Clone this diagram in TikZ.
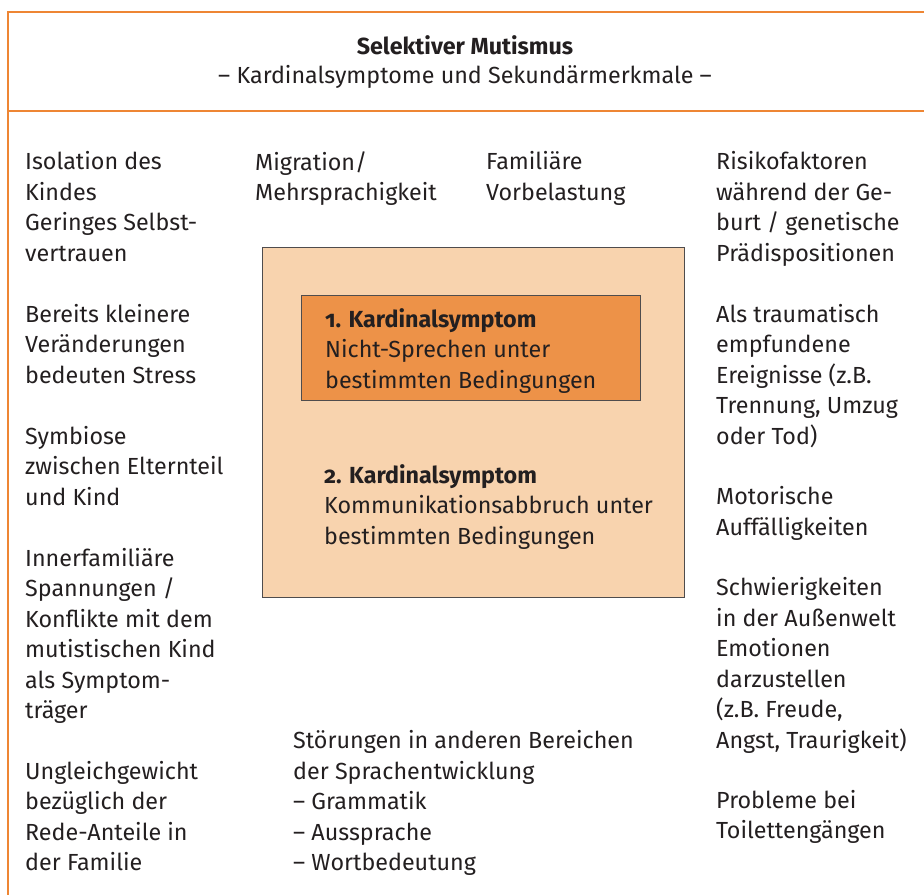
\documentclass[tikz,border=0pt]{standalone}
\usepackage{fontspec}
\setmainfont{Fira Sans}
\usepackage{xcolor}
\definecolor{frameorange}{RGB}{238,134,52}
\definecolor{outerfill}{RGB}{248,211,174}
\definecolor{innerfill}{RGB}{237,146,72}
\definecolor{textgray}{RGB}{35,31,32}
\tikzset{
  txt/.style={anchor=north west,yshift=21.35pt,inner sep=0pt,align=left,text=textgray,
    font=\fontsize{23.3}{30.5}\selectfont,execute at begin node=\strut},
  head/.style={anchor=north,yshift=20.3pt,inner sep=0pt,align=center,text=textgray,
    font=\fontsize{23.3}{29}\selectfont,execute at begin node=\strut}
}
\begin{document}
\begin{tikzpicture}[x=1pt,y=1pt,yscale=-1,xscale=1]
\useasboundingbox (0,0) rectangle (924,895);

\draw [color=frameorange, line width=1.6] (924,12) -- (8,12) -- (8,895) ;
\draw [color=frameorange, line width=1.6] (8,111) -- (924,111) ;
\draw [draw=textgray!80, fill=outerfill, line width=0.9] (262,247) -- (684,247) -- (684,597) -- (262,597) -- cycle ;
\draw [draw=textgray!80, fill=innerfill, line width=0.9] (301,295) -- (640,295) -- (640,400) -- (301,400) -- cycle ;

% header
\node (title) at (465,56) [head] {\textbf{Selektiver Mutismus}\\– Kardinalsymptome und Sekundärmerkmale –};

% left column
\node (isolation) at (25,172.5) [txt] {Isolation des\\Kindes\\Geringes Selbst-\\vertrauen};
\node (stress) at (25,325) [txt] {Bereits kleinere\\Veränderungen\\bedeuten Stress};
\node (symbiose) at (25,447) [txt] {Symbiose\\zwischen Elternteil\\und Kind};
\node (spannung) at (25,569) [txt] {Innerfamiliäre\\Spannungen /\\Konflikte mit dem\\mutistischen Kind\\als Symptom-\\träger};
\node (redeanteil) at (25,782) [txt] {Ungleichgewicht\\bezüglich der\\Rede-Anteile in\\der Familie};

% top middle
\node (migration) at (255,172.5) [txt] {Migration/\\Mehrsprachigkeit};
\node (familie) at (486,172.5) [txt] {Familiäre\\Vorbelastung};

% right column
\node (risiko) at (716,172.5) [txt] {Risikofaktoren\\während der Ge-\\burt / genetische\\Prädispositionen};
\node (trauma) at (716,325) [txt] {Als traumatisch\\empfundene\\Ereignisse (z.B.\\Trennung, Umzug\\oder Tod)};
\node (motorik) at (716,507.5) [txt] {Motorische\\Auffälligkeiten};
\node (emotion) at (716,598.5) [txt] {Schwierigkeiten\\in der Außenwelt\\Emotionen\\darzustellen\\(z.B. Freude,\\Angst, Traurigkeit)};
\node (toilette) at (716,811) [txt] {Probleme bei\\Toilettengängen};

% bottom middle
\node (sprache) at (293,751.5) [txt] {Störungen in anderen Bereichen\\der Sprachentwicklung\\– Grammatik\\– Aussprache\\– Wortbedeutung};

% cardinal symptoms
\node (kard1) at (325,329.5) [txt] {\textbf{\addfontfeature{Numbers=OldStyle}1. Kardinalsymptom}\\Nicht-Sprechen unter\\bestimmten Bedingungen};
\node (kard2) at (324,485.5) [txt] {\textbf{\addfontfeature{Numbers=OldStyle}2. Kardinalsymptom}\\Kommunikationsabbruch unter\\bestimmten Bedingungen};

\end{tikzpicture}
\end{document}
